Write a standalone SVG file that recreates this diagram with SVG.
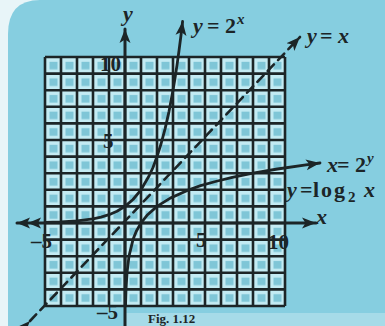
<svg xmlns="http://www.w3.org/2000/svg" width="385" height="326" viewBox="0 0 385 326">
  <style>
    .ln { fill: none; stroke: #1c2527; stroke-linecap: round; stroke-linejoin: round; }
    .grid { fill: none; stroke: #1c2527; stroke-width: 2.6; }
    .lbl { font-family: "Liberation Serif", "DejaVu Serif", serif; font-weight: bold; fill: #1c2527; }
    .it { font-style: italic; }
  </style>
  <defs>
    <pattern id="cell" patternUnits="userSpaceOnUse" x="45" y="57" width="16" height="16.6">
      <rect width="16" height="16.6" fill="#c3ebf3"/>
      <rect x="4.5" y="4.8" width="8" height="7.6" fill="#7fc6d7"/>
    </pattern>
    <marker id="ah" markerUnits="userSpaceOnUse" markerWidth="16" markerHeight="12" refX="14" refY="6" orient="auto">
      <path d="M0,0.5 L14,6 L0,11.5 L3.5,6 Z" fill="#1c2527"/>
    </marker>
    <marker id="ah2" markerUnits="userSpaceOnUse" markerWidth="28" markerHeight="12" refX="1" refY="6" orient="auto">
      <path d="M1,6 L14,0.5 L11,6 L14,11.5 Z M12,6 L25,0.5 L22,6 L25,11.5 Z" fill="#1c2527"/>
    </marker>
  </defs>

  <!-- background -->
  <rect width="385" height="326" fill="#e8f5f8"/>
  <path d="M8,326 L8,34 Q8,0 40,0 L385,0 L385,326 Z" fill="#86cee0"/>
  <rect x="125" y="313" width="260" height="13" fill="#a6dbe8"/>

  <!-- grid -->
  <g id="grid">
    <rect x="45" y="57" width="240" height="249" fill="url(#cell)"/>
    <path class="grid" d="M45,57V306M61,57V306M77,57V306M93,57V306M109,57V306M125,57V306M141,57V306M157,57V306M173,57V306M189,57V306M205,57V306M221,57V306M237,57V306M253,57V306M269,57V306M285,57V306
      M45,57H285M45,73.6H285M45,90.2H285M45,106.8H285M45,123.4H285M45,140H285M45,156.6H285M45,173.2H285M45,189.8H285M45,206.4H285M45,223H285M45,239.6H285M45,256.2H285M45,272.8H285M45,289.4H285M45,306H285"/>
  </g>

  <!-- axes and curves -->
  <g id="connectors">
    <path id="x-axis" class="ln" stroke-width="3" d="M17,223 H316" marker-start="url(#ah2)" marker-end="url(#ah)"/>
    <path id="y-axis" class="ln" stroke-width="3" d="M125,326 V29" marker-end="url(#ah)"/>
    <path id="line-yx" class="ln" stroke-width="2.6" stroke-dasharray="9 6" d="M30,321 L300,37" marker-start="url(#ah)" marker-end="url(#ah)"/>
    <path id="curve-exp" class="ln" stroke-width="2.8" d="M45,222.5 L61,222 L77,220.9 L93,218.85 L101,217.1 L109,214.7 L117,211.3 L125,206.4 L133,199.5 L141,189.8 L149,176 L153,167.5 L157,156.6 L161,144 L165,129.1 L169,111.6 L173,90.2 L175,78.2 L177,65.1 L179,50.7 L181,35.2 L182.6,21.5" marker-end="url(#ah)"/>
    <path id="curve-log" class="ln" stroke-width="2.8" d="M125.5,306 L126,289.4 L127,272.8 L129,256.2 L131,247.9 L133,239.6 L136.3,231.3 L141,223 L147.6,214.7 L157,206.4 L170.3,198.1 L189,189.8 L200.6,185.6 L215.5,181.5 L232.3,177.3 L253,173.2 L277.5,169 L306,164.9 L320,163" marker-end="url(#ah)"/>
  </g>

  <!-- labels -->
  <g id="labels">
    <text class="lbl it" x="123" y="21" font-size="22">y</text>
    <text class="lbl it" x="316" y="224" font-size="22">x</text>
    <text id="lbl-exp" class="lbl" y="33" font-size="22"><tspan class="it" x="193">y</tspan><tspan x="207">=</tspan><tspan x="225">2</tspan><tspan class="it" x="237" dy="-9" font-size="15">x</tspan></text>
    <text id="lbl-yx" class="lbl" y="43" font-size="22"><tspan class="it" x="307">y</tspan><tspan x="320">=</tspan><tspan class="it" x="338">x</tspan></text>
    <text id="lbl-x2y" class="lbl" y="172" font-size="22"><tspan class="it" x="327">x</tspan><tspan x="337">=</tspan><tspan x="355">2</tspan><tspan class="it" x="367" dy="-9" font-size="15">y</tspan></text>
    <text id="lbl-log" class="lbl" y="197" font-size="22"><tspan class="it" x="287">y</tspan><tspan x="300">=</tspan><tspan x="313" letter-spacing="2">log</tspan><tspan x="348" dy="5" font-size="15">2</tspan><tspan class="it" x="364" dy="-5">x</tspan></text>
    <text class="lbl" x="100" y="71" font-size="21">10</text>
    <text class="lbl" x="103" y="148" font-size="21">5</text>
    <text class="lbl" x="31" y="248" font-size="21">–5</text>
    <text class="lbl" x="196" y="247" font-size="21">5</text>
    <text class="lbl" x="268" y="249" font-size="21">10</text>
    <text class="lbl" x="97" y="319" font-size="21">–5</text>
    <text class="lbl" x="148" y="323" font-size="13">Fig. 1.12</text>
  </g>
</svg>
